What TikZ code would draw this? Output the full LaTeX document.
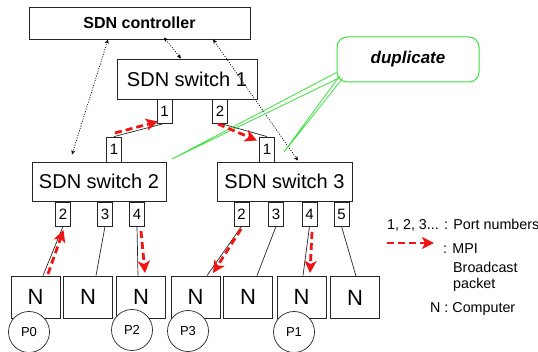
\documentclass[tikz,border=0pt]{standalone}
\usepackage{fontspec}
\setmainfont{Liberation Sans}
\usetikzlibrary{arrows.meta,calc}
\definecolor{dupgreen}{RGB}{60,225,60}
\definecolor{mpired}{RGB}{240,20,20}
\tikzset{
  box/.style={draw=black!85,line width=0.8pt,fill=white,inner sep=0pt},
  portbox/.style={box,minimum width=15pt,minimum height=24pt,font=\fontsize{15}{17}\selectfont},
  swbox/.style={box,font=\fontsize{20}{24}\selectfont},
  compbox/.style={box,minimum width=49pt,minimum height=42pt,font=\fontsize{22}{26}\selectfont},
  procnode/.style={draw=black!85,line width=0.7pt,fill=white,circle,minimum size=41pt,inner sep=0pt,font=\fontsize{13}{15}\selectfont},
  link/.style={draw=black!85,line width=0.7pt},
  mpi/.style={draw=mpired,line width=2.8pt,dash pattern=on 7pt off 4pt,-{Stealth[length=12pt,width=12pt,inset=3pt]}},
  ctrl/.style={draw=black,line width=0.7pt,dash pattern=on 1pt off 1.5pt,{Stealth[length=4.5pt,width=4pt]}-{Stealth[length=4.5pt,width=4pt]}},
  wedge/.style={draw=dupgreen,line width=0.8pt,line join=round},
  legend/.style={inner sep=0pt,anchor=west,font=\fontsize{14.3}{16}\selectfont}
}
\begin{document}
\begin{tikzpicture}[x=1pt,y=-1pt]
\useasboundingbox (0,0) rectangle (538,352);

% controller and switches
\node[box,minimum width=221pt,minimum height=32pt,font=\fontsize{16}{19}\selectfont\bfseries] (ctrl) at (139.5,23) {SDN controller};
\node[swbox,minimum width=140pt,minimum height=40pt] (sw1) at (187,79) {SDN switch 1};
\node[swbox,minimum width=134pt,minimum height=39pt] (sw2) at (99,181.5) {SDN switch 2};
\node[swbox,minimum width=135pt,minimum height=39pt] (sw3) at (284.5,181.5) {SDN switch 3};

% ports
\node[portbox] (s1p1) at (164.5,111) {1};
\node[portbox] (s1p2) at (220,111) {2};
\node[portbox,minimum height=25pt] (s2p1) at (114,149.5) {1};
\node[portbox,minimum height=25pt] (s3p1) at (267,149.5) {1};
\node[portbox] (s2p2) at (63,214) {2};
\node[portbox] (s2p3) at (105,214) {3};
\node[portbox] (s2p4) at (137,214) {4};
\node[portbox] (s3p2) at (241.5,214) {2};
\node[portbox] (s3p3) at (276,214) {3};
\node[portbox] (s3p4) at (309.5,214) {4};
\node[portbox] (s3p5) at (341.5,214) {5};

% computers
\node[compbox] (n1) at (35.5,297) {N};
\node[compbox] (n2) at (88,297) {N};
\node[compbox] (n3) at (141,297) {N};
\node[compbox] (n4) at (195.5,297) {N};
\node[compbox] (n5) at (248,297) {N};
\node[compbox] (n6) at (301.5,297) {N};
\node[compbox] (n7) at (355,297.5) {N};

% processes
\node[procnode] (p0) at (29,332) {P0};
\node[procnode] (p2) at (132,330) {P2};
\node[procnode] (p3) at (188,331) {P3};
\node[procnode] (p1) at (294,332) {P1};

% links
\draw[link] (s2p1.north) -- (s1p1.south);
\draw[link] (s1p2.south) -- (s3p1.north);
\draw[link] (s2p2.south) -- ([xshift=7.5pt]n1.north);
\draw[link] (s2p3.south) -- ([xshift=8pt]n2.north);
\draw[link] (s2p4.south) -- ([xshift=-3pt]n3.north);
\draw[link] (s3p2.south) -- ([xshift=11.5pt]n4.north);
\draw[link] (s3p3.south) -- ([xshift=9pt]n5.north);
\draw[link] (s3p4.south) -- ([xshift=1.5pt]n6.north);
\draw[link] (s3p5.south) -- ([xshift=1pt]n7.north);

% controller links
\draw[ctrl] ([xshift=-31.5pt]ctrl.south) -- ([xshift=-27pt,yshift=7pt]sw2.north);
\draw[ctrl] ([xshift=24.5pt,yshift=2pt]ctrl.south) -- ([xshift=-6pt]sw1.north);
\draw[ctrl] ([xshift=73.5pt]ctrl.south) -- ([xshift=13.5pt,yshift=1pt]sw3.north);

% duplicate callout
\node[draw=dupgreen,line width=1pt,rounded corners=10pt,minimum width=142pt,minimum height=45pt,inner sep=0pt,font=\fontsize{17}{20}\selectfont\bfseries\itshape] (dup) at (408,59.5) {duplicate};
\coordinate (w1a) at (336.5,72.5);
\coordinate (w1b) at (340,77.5);
\coordinate (w2a) at (339.5,76);
\coordinate (w2b) at (342.5,78.5);
\coordinate (w1t) at (172,159);
\coordinate (w2t) at (284,152);
\draw[wedge] (w1a) -- (w1t) -- (w1b);
\draw[wedge] (w2a) -- (w2t) -- (w2b);

% MPI broadcast arrows
\coordinate (a1s) at (115,133); \coordinate (a1e) at (158,121.5);
\coordinate (a2s) at (218,124); \coordinate (a2e) at (257,140.5);
\coordinate (a3s) at (48,274);  \coordinate (a3e) at (63.5,230);
\coordinate (a4s) at (141,231); \coordinate (a4e) at (145,273);
\coordinate (a5s) at (241,229); \coordinate (a5e) at (213,273);
\coordinate (a6s) at (312,232); \coordinate (a6e) at (310,273);
\draw[mpi] (a1s) -- (a1e);
\draw[mpi] (a2s) -- (a2e);
\draw[mpi] (a3s) -- (a3e);
\draw[mpi] (a4s) -- (a4e);
\draw[mpi] (a5s) -- (a5e);
\draw[mpi] (a6s) -- (a6e);

% legend
\node[legend] (lg1) at (387,225) {1, 2, 3... : Port numbers};
\coordinate (lgs) at (387,243); \coordinate (lge) at (434,243);
\draw[mpi] (lgs) -- (lge);
\node[legend] (lg2) at (443,249) {: MPI};
\node[legend] (lg3) at (453,267) {Broadcast};
\node[legend] (lg4) at (453,285) {packet};
\node[legend] (lg5) at (430,309) {N : Computer};
\end{tikzpicture}
\end{document}
